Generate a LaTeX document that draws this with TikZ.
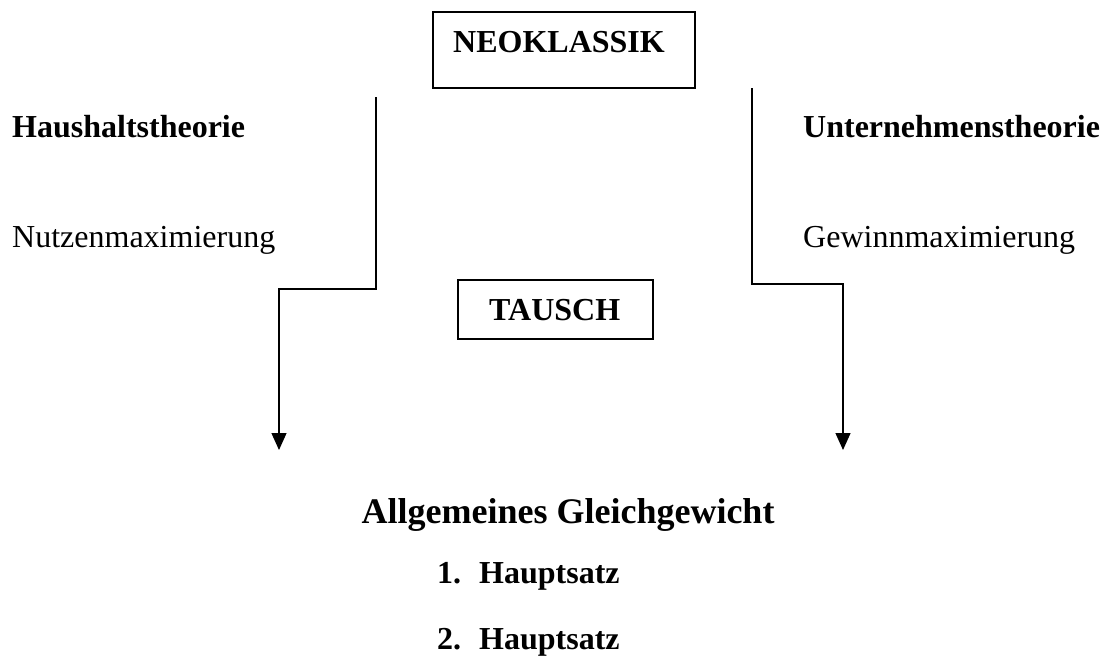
\documentclass[tikz,border=0pt]{standalone}
\usepackage{fontspec}
\setmainfont{Liberation Serif}
\usetikzlibrary{arrows.meta}
\begin{document}
\begin{tikzpicture}[x=1pt,y=1pt,
  txt/.style={inner sep=0pt,anchor=base west,font=\fontsize{32}{38}\selectfont},
  btxt/.style={txt,font=\fontsize{32}{38}\selectfont\bfseries},
  frame/.style={draw,line width=1.3pt},
  conn/.style={line width=1.3pt},
  arr/.style={conn,-{Triangle[length=17pt,width=15pt]}}]
\useasboundingbox (0,0) rectangle (1101,-659);
% boxes
\draw[frame] (433,-12) rectangle (695,-88);
\node[btxt] (neo) at (453,-52) {NEOKLASSIK};
\draw[frame] (458,-280) rectangle (653,-339);
\node[btxt] (tausch) at (489,-320) {TAUSCH};
% side texts
\node[btxt] (haus) at (12,-137) {Haushaltstheorie};
\node[txt] (nutz) at (12,-247) {Nutzenmaximierung};
\node[btxt] (unt) at (803,-137) {Unternehmenstheorie};
\node[txt] (gew) at (803,-247) {Gewinnmaximierung};
% bottom
\node[inner sep=0pt,anchor=base,font=\fontsize{36}{42}\selectfont\bfseries] (allg) at (568,-523) {Allgemeines Gleichgewicht};
\node[btxt] (h1n) at (437,-583) {1.};
\node[btxt] (h1) at (479,-583) {Hauptsatz};
\node[btxt] (h2n) at (437,-649) {2.};
\node[btxt] (h2) at (479,-649) {Hauptsatz};
% connectors
\coordinate (ls) at (376,-97);
\coordinate (le) at (279,-450);
\coordinate (rs) at (752,-88);
\coordinate (re) at (843,-450);
\draw[arr] (ls) -- (376,-289) -| (le);
\draw[arr] (rs) -- (752,-284) -| (re);
\end{tikzpicture}
\end{document}
